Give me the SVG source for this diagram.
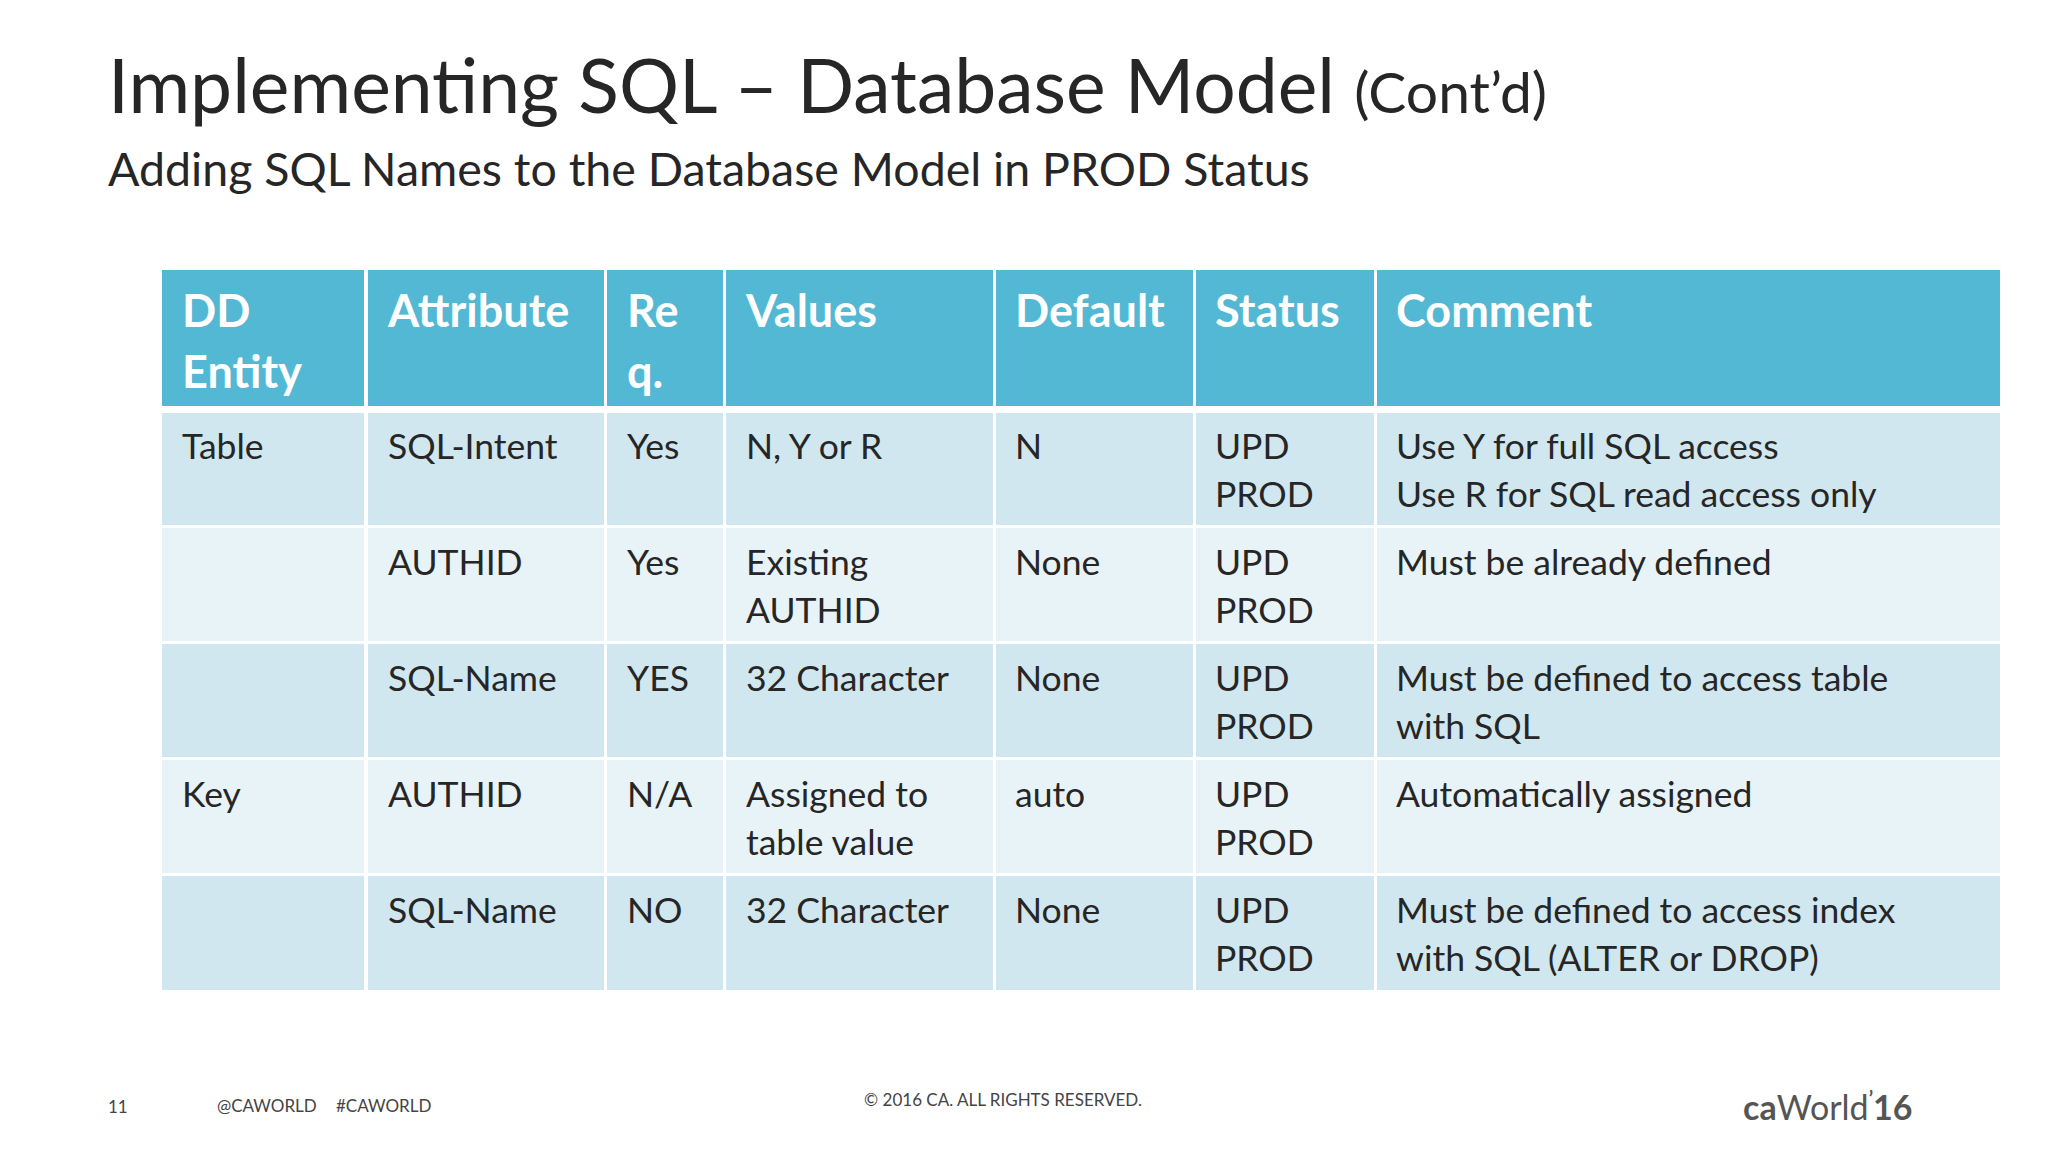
<svg xmlns="http://www.w3.org/2000/svg" width="2048" height="1152" viewBox="0 0 2048 1152">
<style>
text{font-family:Lato,"Open Sans",sans-serif;fill:#262626}
.h{fill:#fff;font-weight:bold;font-size:45px}
.b{font-size:35.5px}
.hd{fill:#52b8d4}.o{fill:#d0e7f0}.e{fill:#e8f3f8}
.f{font-size:17px;fill:#444}
</style>
<rect width="2048" height="1152" fill="#fff"/>
<g id="title">
<text x="108" y="113" font-size="75" fill="#1f2d33">Implementing SQL – Database Model <tspan font-size="57">(Cont’d)</tspan></text>
<text x="108" y="186" font-size="46.5">Adding SQL Names to the Database Model in PROD Status</text>
</g>
<g id="table">
<g id="header">
<rect class="hd" x="162" y="270" width="202" height="136"/>
<rect class="hd" x="368" y="270" width="236" height="136"/>
<rect class="hd" x="607" y="270" width="116" height="136"/>
<rect class="hd" x="726" y="270" width="267" height="136"/>
<rect class="hd" x="996" y="270" width="197" height="136"/>
<rect class="hd" x="1196" y="270" width="178" height="136"/>
<rect class="hd" x="1377" y="270" width="623" height="136"/>
<text class="h" x="182" y="327">DD</text><text class="h" x="182" y="388">Entity</text>
<text class="h" x="388" y="327">Attribute</text>
<text class="h" x="627" y="327">Re</text><text class="h" x="627" y="388">q.</text>
<text class="h" x="746" y="327">Values</text>
<text class="h" x="1015" y="327">Default</text>
<text class="h" x="1215" y="327">Status</text>
<text class="h" x="1396" y="327">Comment</text>
</g>
<g id="rows">
<g class="o"><rect x="162" y="413" width="202" height="112"/><rect x="368" y="413" width="236" height="112"/><rect x="607" y="413" width="116" height="112"/><rect x="726" y="413" width="267" height="112"/><rect x="996" y="413" width="197" height="112"/><rect x="1196" y="413" width="178" height="112"/><rect x="1377" y="413" width="623" height="112"/></g>
<g class="e"><rect x="162" y="528" width="202" height="113"/><rect x="368" y="528" width="236" height="113"/><rect x="607" y="528" width="116" height="113"/><rect x="726" y="528" width="267" height="113"/><rect x="996" y="528" width="197" height="113"/><rect x="1196" y="528" width="178" height="113"/><rect x="1377" y="528" width="623" height="113"/></g>
<g class="o"><rect x="162" y="644" width="202" height="113"/><rect x="368" y="644" width="236" height="113"/><rect x="607" y="644" width="116" height="113"/><rect x="726" y="644" width="267" height="113"/><rect x="996" y="644" width="197" height="113"/><rect x="1196" y="644" width="178" height="113"/><rect x="1377" y="644" width="623" height="113"/></g>
<g class="e"><rect x="162" y="760" width="202" height="113"/><rect x="368" y="760" width="236" height="113"/><rect x="607" y="760" width="116" height="113"/><rect x="726" y="760" width="267" height="113"/><rect x="996" y="760" width="197" height="113"/><rect x="1196" y="760" width="178" height="113"/><rect x="1377" y="760" width="623" height="113"/></g>
<g class="o"><rect x="162" y="876" width="202" height="114"/><rect x="368" y="876" width="236" height="114"/><rect x="607" y="876" width="116" height="114"/><rect x="726" y="876" width="267" height="114"/><rect x="996" y="876" width="197" height="114"/><rect x="1196" y="876" width="178" height="114"/><rect x="1377" y="876" width="623" height="114"/></g>
</g>
<g id="cells">
<text class="b" x="182" y="459">Table</text><text class="b" x="388" y="459">SQL-Intent</text><text class="b" x="627" y="459">Yes</text><text class="b" x="746" y="459">N, Y or R</text><text class="b" x="1015" y="459">N</text><text class="b" x="1215" y="459">UPD</text><text class="b" x="1215" y="507">PROD</text><text class="b" x="1396" y="459">Use Y for full SQL access</text><text class="b" x="1396" y="507">Use R for SQL read access only</text>
<text class="b" x="388" y="575">AUTHID</text><text class="b" x="627" y="575">Yes</text><text class="b" x="746" y="575">Existing</text><text class="b" x="746" y="623">AUTHID</text><text class="b" x="1015" y="575">None</text><text class="b" x="1215" y="575">UPD</text><text class="b" x="1215" y="623">PROD</text><text class="b" x="1396" y="575">Must be already defined</text>
<text class="b" x="388" y="691">SQL-Name</text><text class="b" x="627" y="691">YES</text><text class="b" x="746" y="691">32 Character</text><text class="b" x="1015" y="691">None</text><text class="b" x="1215" y="691">UPD</text><text class="b" x="1215" y="739">PROD</text><text class="b" x="1396" y="691">Must be defined to access table</text><text class="b" x="1396" y="739">with SQL</text>
<text class="b" x="182" y="807">Key</text><text class="b" x="388" y="807">AUTHID</text><text class="b" x="627" y="807">N/A</text><text class="b" x="746" y="807">Assigned to</text><text class="b" x="746" y="855">table value</text><text class="b" x="1015" y="807">auto</text><text class="b" x="1215" y="807">UPD</text><text class="b" x="1215" y="855">PROD</text><text class="b" x="1396" y="807">Automatically assigned</text>
<text class="b" x="388" y="923">SQL-Name</text><text class="b" x="627" y="923">NO</text><text class="b" x="746" y="923">32 Character</text><text class="b" x="1015" y="923">None</text><text class="b" x="1215" y="923">UPD</text><text class="b" x="1215" y="971">PROD</text><text class="b" x="1396" y="923">Must be defined to access index</text><text class="b" x="1396" y="971">with SQL (ALTER or DROP)</text>
</g>
</g>
<g id="footer">
<text class="f" x="108" y="1113" font-size="20">11</text>
<text class="f" x="217" y="1112">@CAWORLD</text>
<text class="f" x="336" y="1112">#CAWORLD</text>
<text class="f" x="1003" y="1106" text-anchor="middle">© 2016 CA. ALL RIGHTS RESERVED.</text>
<text x="1743" y="1120" font-size="34" font-weight="bold" style="fill:#555">ca<tspan font-weight="normal">World</tspan><tspan font-size="20" dy="-14">’</tspan><tspan dy="14">16</tspan></text>
</g>
</svg>
